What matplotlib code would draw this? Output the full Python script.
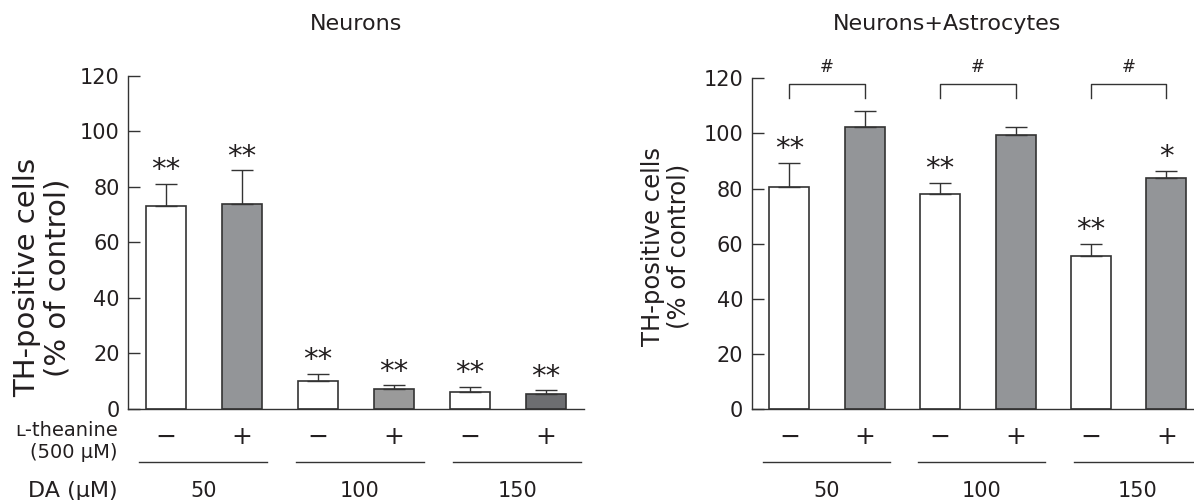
import matplotlib
matplotlib.use("Agg")
import matplotlib.pyplot as plt
import matplotlib.transforms as mtransforms
import numpy as np

# data
da_doses = ['50', '100', '150']
theanine = ['\u2212', '+', '\u2212', '+', '\u2212', '+']

neurons_mean = [73.0, 73.7, 10.1, 7.1, 6.0, 5.4]
neurons_err = [8.0, 12.3, 2.6, 1.4, 2.0, 1.4]
neurons_sig = ['**', '**', '**', '**', '**', '**']
neurons_colors = ['white', '#939598', 'white', '#9a9a9a', 'white', '#6d6e71']

astro_mean = [80.6, 102.5, 78.0, 99.5, 55.6, 84.0]
astro_err = [8.7, 5.5, 4.0, 2.9, 4.4, 2.4]
astro_sig = ['**', '', '**', '', '**', '*']
astro_colors = ['white', '#939598', 'white', '#939598', 'white', '#939598']
astro_pairs = [(0, 1), (2, 3), (4, 5)]

W, H = 1194, 500
txt = '#231f20'
edge = '#333333'

fig = plt.figure(figsize=(W / 100, H / 100), dpi=100)


def px_box(x0, x1, ytop, ybot):
    return [x0 / W, 1 - ybot / H, (x1 - x0) / W, (ybot - ytop) / H]


ax1 = fig.add_axes(px_box(128, 584, 75.7, 409))
ax2 = fig.add_axes(px_box(751.7, 1194.3, 78.3, 409))


def draw_panel(ax, mean, err, sig, colors, xlim):
    x = np.arange(len(mean))
    ax.bar(x, mean, width=0.53, color=colors, edgecolor=edge, linewidth=1.2, zorder=2)
    ax.errorbar(x, mean, yerr=[np.zeros(len(err)), err], fmt='none', ecolor=edge,
                elinewidth=1.0, capsize=8, capthick=1.0, zorder=3)
    for xi, m, e, s in zip(x, mean, err, sig):
        if s:
            ax.annotate(s, (xi, m + e), xytext=(0, 4), textcoords='offset points',
                        ha='center', va='baseline', fontsize=21, color=txt)
    ax.set_xlim(*xlim)
    ax.set_ylim(0, 120)
    ax.set_yticks([0, 20, 40, 60, 80, 100, 120])
    ax.set_xticks([])
    ax.tick_params(axis='y', direction='in', length=8.6, width=1.0, color=edge,
                   labelsize=15, labelcolor=txt, pad=6)
    for side in ['top', 'right']:
        ax.spines[side].set_visible(False)
    for side in ['left', 'bottom']:
        ax.spines[side].set_color(edge)
        ax.spines[side].set_linewidth(1.0)

    # treatment signs, dose lines and dose labels below the axis
    tr = mtransforms.blended_transform_factory(ax.transData, fig.transFigure)
    for xi, s in zip(x, theanine):
        ax.text(xi, 1 - 437 / H, s, transform=tr, ha='center', va='center',
                fontsize=18, color=txt, clip_on=False)
    starts = [-0.35, 1.71, 3.78]
    for st, d in zip(starts, da_doses):
        ax.plot([st, st + 1.68], [1 - 461.7 / H] * 2, transform=tr, color=edge,
                lw=1.0, clip_on=False)
        ax.text(st + 0.84, 1 - 491 / H, d, transform=tr, ha='center', va='center',
                fontsize=15, color=txt, clip_on=False)


draw_panel(ax1, neurons_mean, neurons_err, neurons_sig, neurons_colors, (-0.5, 5.5))
draw_panel(ax2, astro_mean, astro_err, astro_sig, astro_colors, (-0.5, 5.37))

# significance brackets for the co-culture panel
for a, b in astro_pairs:
    ax2.plot([a, a, b, b], [113, 118, 118, 113], color=edge, lw=1.0, clip_on=False)
    ax2.text((a + b) / 2, 124, '#', ha='center', va='center', fontsize=12,
             color=txt, clip_on=False)

fig.text(356.5 / W, 1 - 24 / H, 'Neurons', ha='center', va='center', fontsize=16, color=txt)
fig.text(947.5 / W, 1 - 24 / H, 'Neurons+Astrocytes', ha='center', va='center',
         fontsize=16, color=txt)

fig.text(42 / W, 1 - 277.5 / H, 'TH-positive cells\n(% of control)', rotation=90,
         ha='center', va='center', fontsize=21, color=txt, linespacing=1.1)
fig.text(666 / W, 1 - 246.5 / H, 'TH-positive cells\n(% of control)', rotation=90,
         ha='center', va='center', fontsize=17.5, color=txt, linespacing=1.1)

fig.text(118 / W, 1 - 430 / H, '\u029f-theanine', ha='right', va='center',
         fontsize=14, color=txt)
fig.text(118 / W, 1 - 452 / H, '(500 \u00b5M)', ha='right', va='center',
         fontsize=14, color=txt)
fig.text(118 / W, 1 - 491 / H, 'DA (\u00b5M)', ha='right', va='center',
         fontsize=16, color=txt)

fig.savefig('out.png', dpi=100)
